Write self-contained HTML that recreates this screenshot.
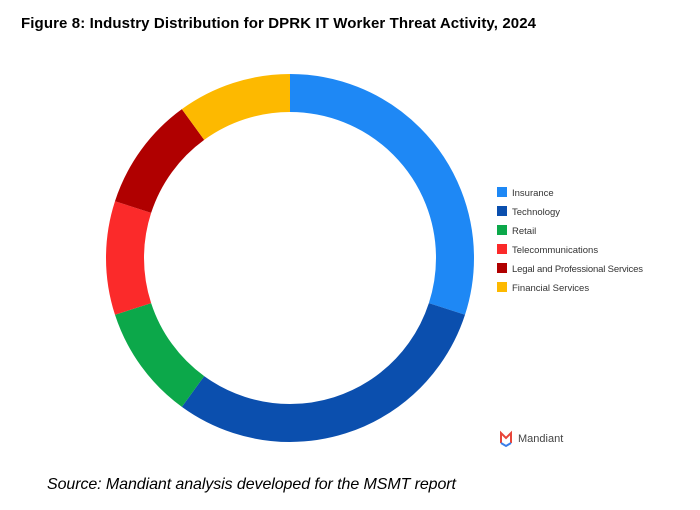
<!DOCTYPE html>
<html><head><style>
body{margin:0;background:#fff;width:700px;height:505px;overflow:hidden;font-family:"Liberation Sans",sans-serif}
</style></head><body>
<svg width="700" height="505" xmlns="http://www.w3.org/2000/svg">
<text x="21" y="28" font-family="Liberation Sans" font-weight="bold" font-size="15" fill="#000" textLength="515">Figure 8: Industry Distribution for DPRK IT Worker Threat Activity, 2024</text>
<g transform="rotate(-90 290 258)" fill="none" stroke-width="38">
<circle cx="290" cy="258" r="165" pathLength="100" stroke="#1e88f5" stroke-dasharray="30 70" stroke-dashoffset="0"/>
<circle cx="290" cy="258" r="165" pathLength="100" stroke="#0b4fae" stroke-dasharray="30 70" stroke-dashoffset="-30"/>
<circle cx="290" cy="258" r="165" pathLength="100" stroke="#0ca84a" stroke-dasharray="10 90" stroke-dashoffset="-60"/>
<circle cx="290" cy="258" r="165" pathLength="100" stroke="#fb2a2a" stroke-dasharray="10 90" stroke-dashoffset="-70"/>
<circle cx="290" cy="258" r="165" pathLength="100" stroke="#b00000" stroke-dasharray="10 90" stroke-dashoffset="-80"/>
<circle cx="290" cy="258" r="165" pathLength="100" stroke="#fdb900" stroke-dasharray="10 90" stroke-dashoffset="-90"/>
</g>
<g font-family="Liberation Sans" font-size="9.5" fill="#333">
<rect x="497" y="187" width="10" height="10" fill="#1e88f5"/><text x="512" y="196">Insurance</text>
<rect x="497" y="206" width="10" height="10" fill="#0b4fae"/><text x="512" y="215">Technology</text>
<rect x="497" y="225" width="10" height="10" fill="#0ca84a"/><text x="512" y="234">Retail</text>
<rect x="497" y="244" width="10" height="10" fill="#fb2a2a"/><text x="512" y="253">Telecommunications</text>
<rect x="497" y="263" width="10" height="10" fill="#b00000"/><text x="512" y="272" textLength="131">Legal and Professional Services</text>
<rect x="497" y="282" width="10" height="10" fill="#fdb900"/><text x="512" y="291">Financial Services</text>
</g>
<path d="M501 443 L501 433 L506 438 L511 433 L511 443" fill="none" stroke="#e8463a" stroke-width="2"/>
<path d="M501 443 L506 446 L511 443" fill="none" stroke="#3a7ee8" stroke-width="2"/>
<text x="518" y="442" font-family="Liberation Sans" font-size="11" fill="#444">Mandiant</text>
<text x="47" y="489" font-family="Liberation Sans" font-style="italic" font-size="16" fill="#000" textLength="409">Source: Mandiant analysis developed for the MSMT report</text>
</svg>
</body></html>
